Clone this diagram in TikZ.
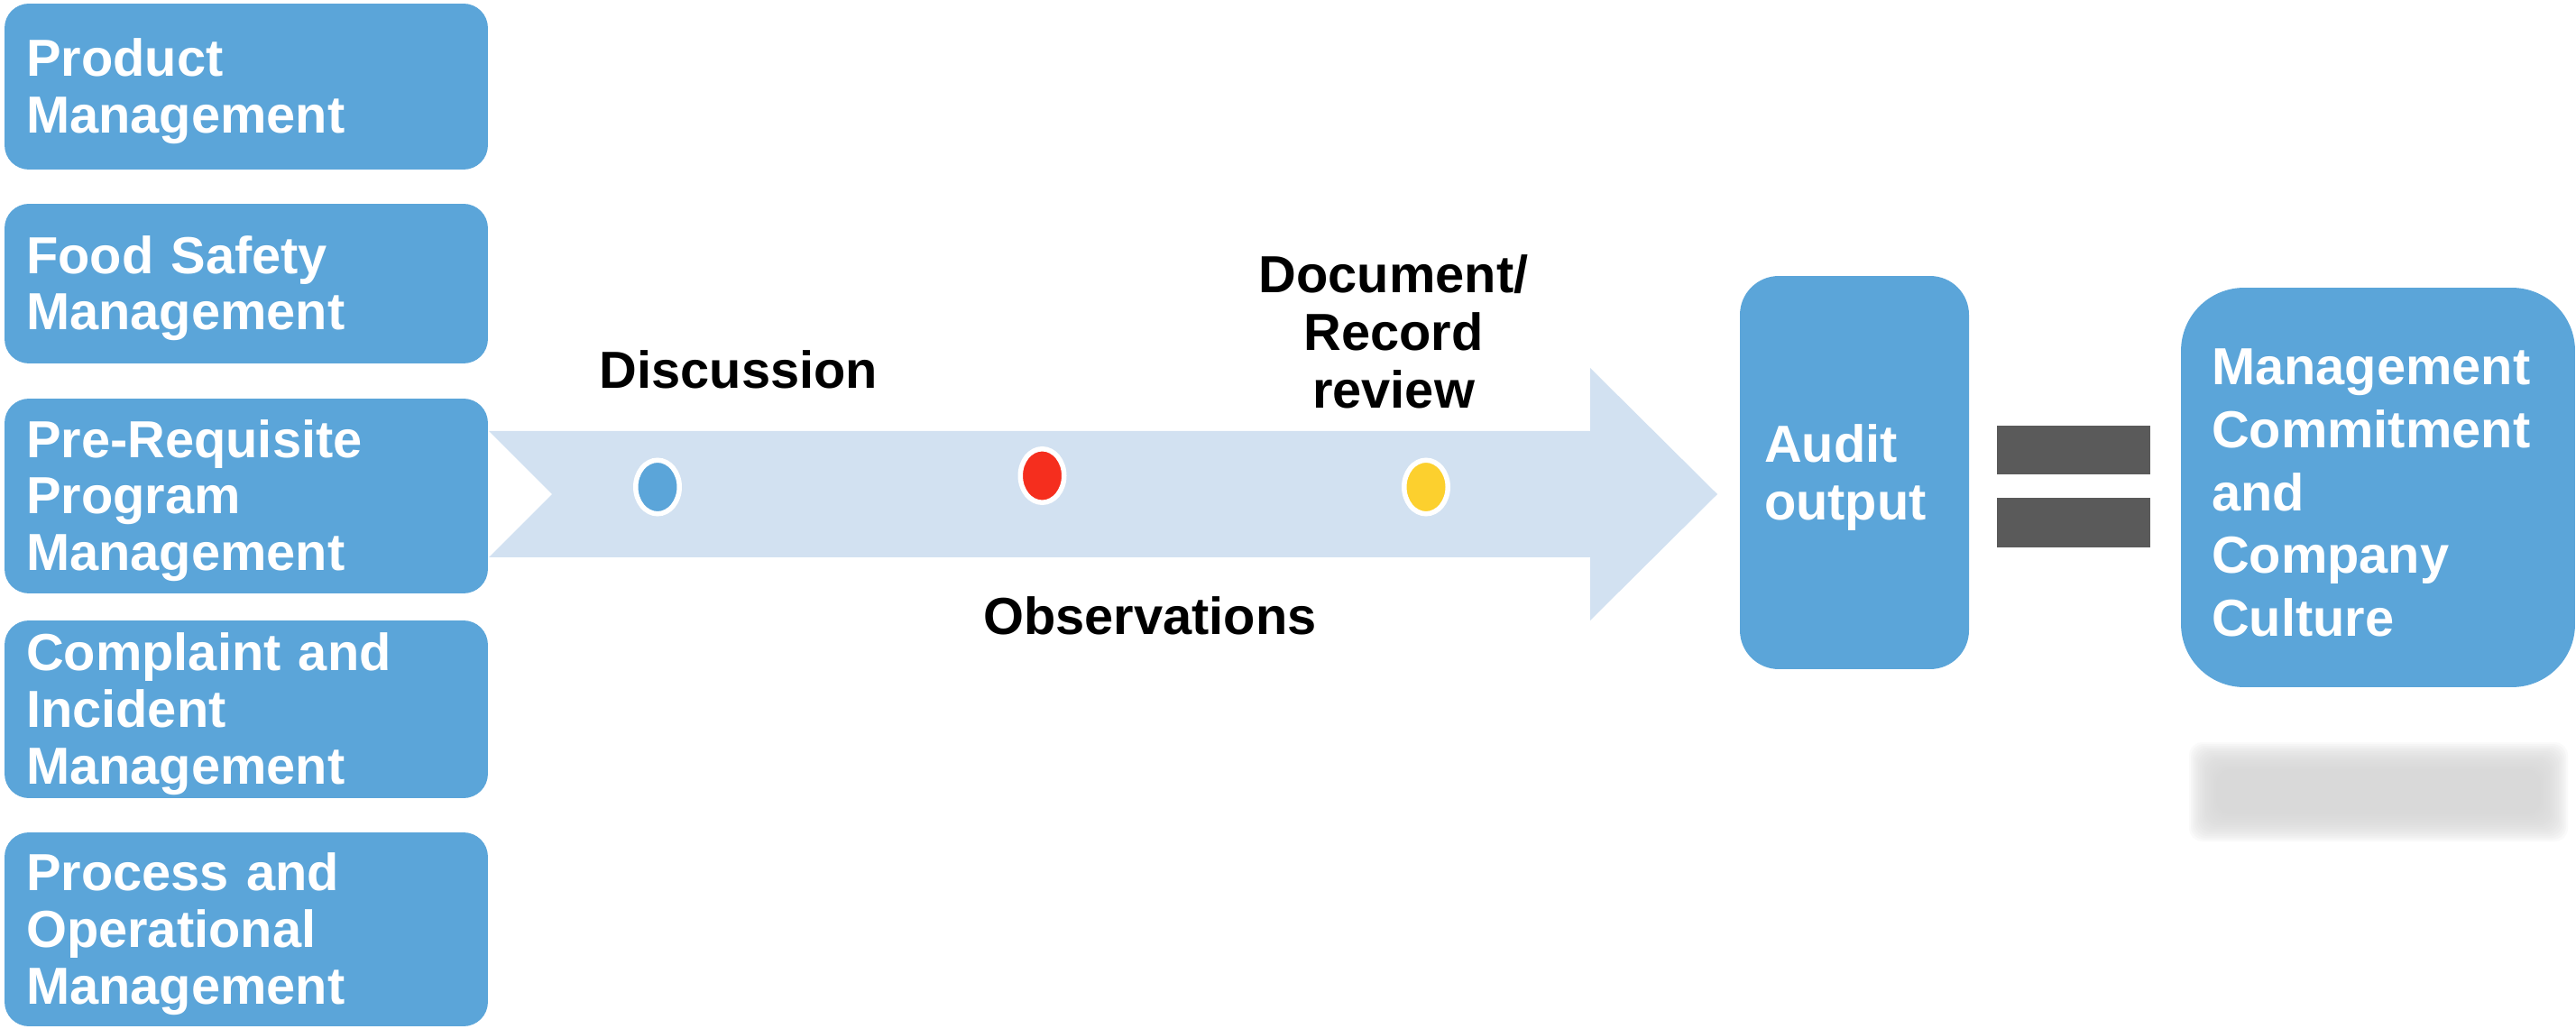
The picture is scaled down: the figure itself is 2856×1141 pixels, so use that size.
\documentclass[tikz,border=0pt]{standalone}
\usepackage{fontspec}
\setmainfont{Liberation Sans}
\usetikzlibrary{shapes.geometric}
\definecolor{boxblue}{RGB}{91,165,217}
\definecolor{arrowblue}{RGB}{210,225,241}
\definecolor{dotred}{RGB}{245,46,30}
\definecolor{dotyellow}{RGB}{252,208,46}
\definecolor{bargray}{RGB}{90,90,90}
\definecolor{shadowgray}{RGB}{217,217,217}
\newcommand\topfix{\rule{0pt}{29.6pt}}
\tikzset{
  lbox/.style={fill=boxblue, rounded corners=0.54cm, text=white,
    font=\fontsize{32.9}{35.7}\selectfont\bfseries, align=left,
    text width=9.76cm, inner xsep=0.48cm, inner ysep=0pt, minimum width=10.72cm},
  abox/.style={fill=boxblue, rounded corners=0.86cm, text=white,
    font=\fontsize{32.9}{36.3}\selectfont\bfseries, align=left,
    text width=4.0cm, inner xsep=0.54cm, inner ysep=0pt},
  rbox/.style={fill=boxblue, rounded corners=1.4cm, text=white,
    font=\fontsize{32.9}{39.7}\selectfont\bfseries, align=left,
    text width=7.38cm, inner xsep=0.68cm, inner ysep=0pt},
  lbl/.style={text=black, font=\fontsize{32.9}{36.3}\selectfont\bfseries, inner sep=0pt},
  dotnode/.style={ellipse, draw=white, line width=0.11cm, minimum width=0.97cm,
    minimum height=1.19cm, inner sep=0pt},
  bar/.style={fill=bargray, draw=none, minimum width=3.4cm, minimum height=1.09cm, inner sep=0pt},
}
\begin{document}
\begin{tikzpicture}[x=0.02cm, y=-0.02cm]
\useasboundingbox (0,0) rectangle (2856,1141);
\fill[white] (0,0) rectangle (2856,1141);

% left boxes
\node[lbox, minimum height=3.68cm] (pm) at (273,96) {\topfix Product\\Management};
\node[lbox, minimum height=3.54cm] (fsm) at (273,314.5) {\topfix Food Safety\\Management};
\node[lbox, minimum height=4.32cm] (prp) at (273,550) {\topfix Pre-Requisite\\Program\\Management};
\node[lbox, minimum height=3.94cm] (cim) at (273,786.5) {\topfix Complaint and\\Incident\\Management};
\node[lbox, minimum height=4.3cm] (pom) at (273,1030.5) {\topfix Process and\\Operational\\Management};

% big arrow
\fill[arrowblue] (542,478) -- (1763,478) -- (1763,408) -- (1904,548) -- (1763,688)
  -- (1763,618) -- (542,618) -- (612,548) -- cycle;

% dots
\node[dotnode, fill=boxblue] (d1) at (729,540) {};
\node[dotnode, fill=dotred] (d2) at (1155.5,527.5) {};
\node[dotnode, fill=dotyellow] (d3) at (1581,540) {};

% labels
\node[lbl] (disc) at (819,410) {Discussion};
\node[lbl] (obs) at (1275,683) {Observations};
\node[lbl, align=center] (doc) at (1545,368) {Document/\\Record\\review};

% audit output
\node[abox, minimum width=5.08cm, minimum height=8.72cm] (audit) at (2056,524) {\rule{0pt}{30.5pt}Audit\\output};

% equals
\node[bar] (eq1) at (2299,499) {};
\node[bar] (eq2) at (2299,579.5) {};

% right box
\node[rbox, minimum width=8.74cm, minimum height=8.86cm] (mcc) at (2636.5,540.5)
  {\topfix Management\\Commitment\\and\\Company\\Culture};

% blurred shadow
\foreach \e in {-24,-22,...,20} {
  \fill[shadowgray, opacity=0.13, rounded corners=0.3cm]
    (2447-\e,843-\e) rectangle (2827+\e,913+\e);
}
\end{tikzpicture}
\end{document}
